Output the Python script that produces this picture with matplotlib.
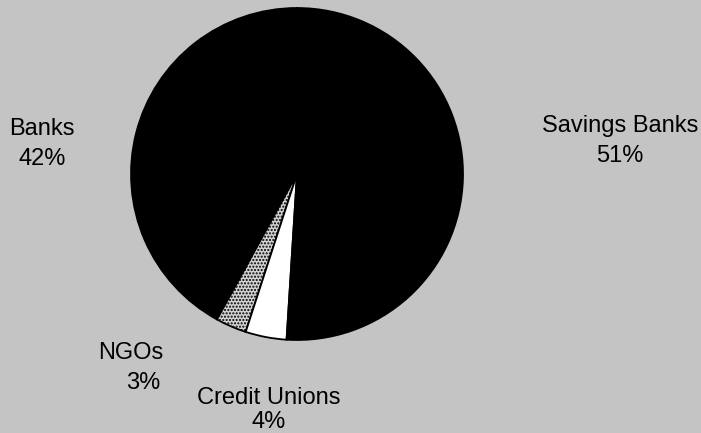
import matplotlib.pyplot as plt

# share of institutions, counter-clockwise from the top
labels = ['Banks', 'NGOs', 'Credit Unions', 'Savings Banks']
shares = [42, 3, 4, 51]
colors = ['black', '#d2d2d2', 'white', 'black']

# label anchor points (pixels from the bottom-left of the figure)
label_pos = {
    'Banks': (42, 289),
    'NGOs': (131, 80),
    'Credit Unions': (269, 23),
    'Savings Banks': (620, 292),
}

plt.rcParams['font.family'] = ['Liberation Sans', 'DejaVu Sans']

fig = plt.figure(figsize=(7.01, 4.33), dpi=100)
fig.patch.set_facecolor('#c4c4c4')
ax = fig.add_axes([0, 0, 1, 1])

wedges, _ = ax.pie(
    shares,
    colors=colors,
    startangle=90,
    counterclock=True,
    center=(297, 259),
    radius=166,
    wedgeprops=dict(edgecolor='black', linewidth=1.3),
)
wedges[1].set_hatch('.....')

ax.set_xlim(0, 701)
ax.set_ylim(0, 433)
ax.set_aspect('equal')
ax.axis('off')

for name, val in zip(labels, shares):
    x, y = label_pos[name]
    if name == 'NGOs':
        ax.text(x, y, name, ha='center', va='center', fontsize=17)
        ax.text(x + 12, y - 30, f'{val}%', ha='center', va='center', fontsize=17)
    elif name == 'Credit Unions':
        ax.text(x, y, f'{name}\n{val}%', ha='center', va='center',
                fontsize=17, linespacing=1.15)
    else:
        ax.text(x, y, f'{name}\n{val}%', ha='center', va='center',
                fontsize=17, linespacing=1.45)

fig.savefig('out.png', dpi=100, facecolor=fig.get_facecolor())
